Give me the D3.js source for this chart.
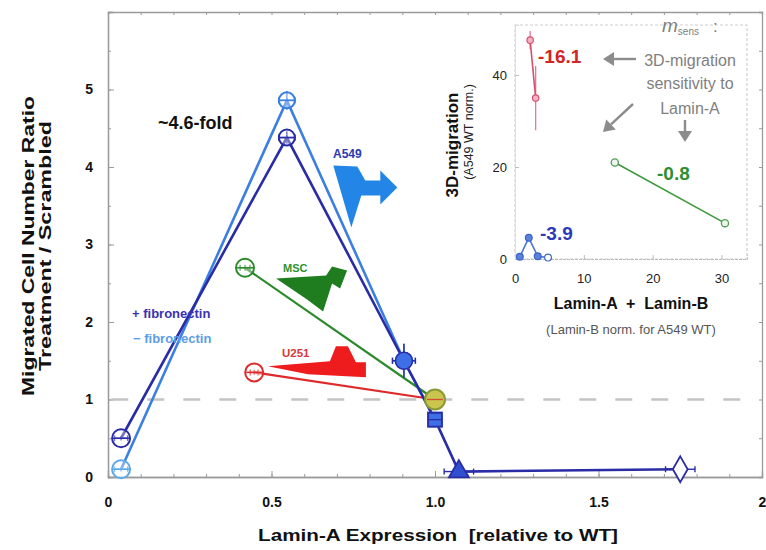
<!DOCTYPE html>
<html>
<head>
<meta charset="utf-8">
<script src="https://cdn.jsdelivr.net/npm/d3@7"></script>
<style>
  body { margin: 0; background: #fff; }
  svg { display: block; }
  text { font-family: "Liberation Sans", Arial, Helvetica, sans-serif; }
</style>
</head>
<body>
<svg id="chart" width="766" height="550"></svg>
<script>
// ---------- main panel ----------
const xTicks = [0, 0.5, 1.0, 1.5, 2];
const xTickLabels = ["0", "0.5", "1.0", "1.5", "2"];
const yTicks = [0, 1, 2, 3, 4, 5];

// A549, - fibronectin
const laminMinusFn = [0.04, 0.547, 0.905, 1.0];
const ratioMinusFn = [0.10, 4.86, 1.50, 0.74];
const xErrMinusFn  = [0.02, 0.025, 0.035, 0.02];
const yErrMinusFn  = [0.03, 0.12, 0.22, 0.08];
const markMinusFn  = ["circle", "circleBar", "dot", "square"];

// A549, + fibronectin
const laminPlusFn = [0.04, 0.547, 0.905, 1.0, 1.073, 1.75];
const ratioPlusFn = [0.50, 4.38, 1.50, 0.74, 0.07, 0.10];
const xErrPlusFn  = [0.02, 0.025, 0.035, 0.02, 0.045, 0.045];
const yErrPlusFn  = [0.03, 0.08, 0.22, 0.08, 0.03, 0.03];
const markPlusFn  = ["circle", "circleBar", "dot", "square", "triangle", "diamond"];

// MSC and U251 (second point = WT)
const laminMSC = [0.419, 1.0];
const ratioMSC = [2.70, 1.0];
const laminU251 = [0.447, 1.0];
const ratioU251 = [1.35, 1.0];

// icon anchors in data units (top-left / left tip of each cell icon)
const iconA549 = [0.689, 4.02];
const iconMSC = [0.514, 2.56];
const iconU251 = [0.489, 1.43];

// ---------- inset ----------
const insetXTicks = [0, 10, 20, 30];
const insetYTicks = [0, 20, 40];
const sumU251 = [2.2, 3.0];
const migU251 = [47.6, 35.0];
const errU251 = [2.0, 7.0];
const sumMSC = [14.5, 30.5];
const migMSC = [21.0, 7.8];
const sumA549 = [0.7, 2.0, 3.3, 4.8];
const migA549 = [0.5, 4.6, 0.6, 0.3];
const slopeLabels = ["-16.1", "-0.8", "-3.9"];

const C = {
  dark: "#2a2ca6",
  light: "#3b7fe3",
  lightText: "#5b9de6",
  green: "#2b8a2b",
  red: "#de2a2a",
  axis: "#9a9a9a",
  grey: "#888"
};

const svg = d3.select("#chart");

const x = d3.scaleLinear().domain([0, 2]).range([108, 762]);
const y = d3.scaleLinear().domain([0, 6]).range([477, 12]);

// ---------- frame & axes ----------
function styleAxis(g) {
  g.selectAll("path.domain").attr("stroke", C.axis).attr("stroke-width", 1.3);
  g.selectAll(".tick line").attr("stroke", C.axis).attr("stroke-width", 1);
}

const minorX = d3.range(0, 2.0001, 0.1);
const minorY = d3.range(0, 6.0001, 0.5);

svg.append("g").attr("transform", "translate(0,477)")
  .call(d3.axisBottom(x).tickValues(minorX).tickSize(-3).tickFormat(""))
  .call(styleAxis);
svg.append("g").attr("transform", "translate(0,12)")
  .call(d3.axisTop(x).tickValues(minorX).tickSize(-3).tickFormat(""))
  .call(styleAxis);
svg.append("g").attr("transform", "translate(108,0)")
  .call(d3.axisLeft(y).tickValues(minorY).tickSize(-3).tickFormat(""))
  .call(styleAxis);
svg.append("g").attr("transform", "translate(762,0)")
  .call(d3.axisRight(y).tickValues(minorY).tickSize(-3).tickFormat(""))
  .call(styleAxis);

const xAxis = svg.append("g").attr("transform", "translate(0,477)")
  .call(d3.axisBottom(x).tickValues(xTicks).tickSize(-6).tickPadding(20)
    .tickFormat((d, i) => xTickLabels[i]))
  .call(styleAxis);
xAxis.selectAll("text").attr("font-size", 14).attr("font-weight", "bold").attr("fill", "#111");

const yAxis = svg.append("g").attr("transform", "translate(108,0)")
  .call(d3.axisLeft(y).tickValues(yTicks).tickSize(-6).tickPadding(15).tickFormat(d3.format("d")))
  .call(styleAxis);
yAxis.selectAll("text").attr("font-size", 14).attr("font-weight", "bold").attr("fill", "#111");

// reference line at ratio = 1
svg.append("line")
  .attr("x1", x(0.01)).attr("x2", x(1.97))
  .attr("y1", y(1)).attr("y2", y(1))
  .attr("stroke", "#c4c4c4").attr("stroke-width", 2.6)
  .attr("stroke-dasharray", "17 19");

// axis titles
svg.append("text")
  .attr("x", 438).attr("y", 541).attr("text-anchor", "middle")
  .attr("font-size", 16).attr("font-weight", "bold").attr("fill", "#111")
  .attr("xml:space", "preserve")
  .attr("textLength", 360).attr("lengthAdjust", "spacingAndGlyphs")
  .text("Lamin-A Expression  [relative to WT]");

const yTitle = svg.append("g").attr("transform", "translate(0,246) rotate(-90)");
yTitle.append("text").attr("x", 0).attr("y", 34).attr("text-anchor", "middle")
  .attr("font-size", 16).attr("font-weight", "bold").attr("fill", "#111")
  .attr("textLength", 300).attr("lengthAdjust", "spacingAndGlyphs")
  .text("Migrated Cell Number Ratio");
yTitle.append("text").attr("x", 0).attr("y", 51).attr("text-anchor", "middle")
  .attr("font-size", 16).attr("font-weight", "bold").attr("fill", "#111")
  .attr("textLength", 250).attr("lengthAdjust", "spacingAndGlyphs")
  .text("Treatment / Scrambled");

// ---------- cell icons ----------
const iconShapes = {
  a549: "M0,0 L24,1 L32,15 L47,15 L47,5 L64,22 L47,39 L47,30 L28,30 L18,62 Z",
  msc: "M0,0 L50,-3 L56,-12 L71,-8 L64,10 L56,5 L47,33 L31,21 Z",
  u251: "M0,0 L62,-5 L68,-20 L80,-20 L88,-4 L98,-4 L98,11 L40,8 Z"
};
svg.append("path").attr("d", iconShapes.a549)
  .attr("transform", `translate(${x(iconA549[0])},${y(iconA549[1])})`)
  .attr("fill", "#2386e6");
svg.append("path").attr("d", iconShapes.msc)
  .attr("transform", `translate(${x(iconMSC[0])},${y(iconMSC[1])})`)
  .attr("fill", "#1f7d1f");
svg.append("path").attr("d", iconShapes.u251)
  .attr("transform", `translate(${x(iconU251[0])},${y(iconU251[1])})`)
  .attr("fill", "#ee1c1c");

// ---------- series lines ----------
const line = d3.line().x(d => x(d[0])).y(d => y(d[1]));
const zip = (a, b) => a.map((v, i) => [v, b[i]]);

svg.append("path").datum(zip(laminMSC, ratioMSC)).attr("d", line)
  .attr("fill", "none").attr("stroke", C.green).attr("stroke-width", 2.2);
svg.append("path").datum(zip(laminU251, ratioU251)).attr("d", line)
  .attr("fill", "none").attr("stroke", C.red).attr("stroke-width", 2.2);
svg.append("path").datum(zip(laminMinusFn, ratioMinusFn)).attr("d", line)
  .attr("fill", "none").attr("stroke", C.light).attr("stroke-width", 2.6);
svg.append("path").datum(zip(laminPlusFn, ratioPlusFn)).attr("d", line)
  .attr("fill", "none").attr("stroke", C.dark).attr("stroke-width", 2.6);

// ---------- markers ----------
function drawPoint(g, lx, ry, ex, ey, kind, stroke, fill) {
  const cx = x(lx), cy = y(ry);
  const eb = g.append("g").attr("stroke", stroke).attr("stroke-width", 1.4);
  eb.append("line").attr("x1", x(lx - ex)).attr("x2", x(lx + ex)).attr("y1", cy).attr("y2", cy);
  eb.append("line").attr("x1", cx).attr("x2", cx).attr("y1", y(ry - ey)).attr("y2", y(ry + ey));
  [x(lx - ex), x(lx + ex)].forEach(px => eb.append("line")
    .attr("x1", px).attr("x2", px).attr("y1", cy - 3).attr("y2", cy + 3));
  if (kind === "circle" || kind === "circleBar") {
    g.append("circle").attr("cx", cx).attr("cy", cy).attr("r", kind === "circle" ? 9 : 8)
      .attr("fill", "rgba(255,255,255,0.35)").attr("stroke", stroke).attr("stroke-width", 2);
    g.append("line").attr("x1", cx - 8).attr("x2", cx + 8).attr("y1", cy).attr("y2", cy)
      .attr("stroke", stroke).attr("stroke-width", 1.6);
  } else if (kind === "dot") {
    g.append("circle").attr("cx", cx).attr("cy", cy).attr("r", 8.5)
      .attr("fill", fill).attr("stroke", stroke).attr("stroke-width", 1.6);
  } else {
    const type = { square: d3.symbolSquare, triangle: d3.symbolTriangle, diamond: d3.symbolDiamond }[kind];
    const size = { square: 190, triangle: 170, diamond: 190 }[kind];
    g.append("path").attr("d", d3.symbol(type, size))
      .attr("transform", `translate(${cx},${cy})`)
      .attr("fill", fill).attr("stroke", stroke).attr("stroke-width", 1.8);
    if (kind === "square") {
      g.append("line").attr("x1", cx - 7).attr("x2", cx + 7).attr("y1", cy).attr("y2", cy)
        .attr("stroke", stroke).attr("stroke-width", 1.3);
    }
  }
}

const mk = svg.append("g");
laminMinusFn.forEach((v, i) => drawPoint(mk, v, ratioMinusFn[i], xErrMinusFn[i], yErrMinusFn[i],
  markMinusFn[i], i === 0 ? "#5aa8e6" : C.light, "#4a86ea"));
laminPlusFn.forEach((v, i) => drawPoint(mk, v, ratioPlusFn[i], xErrPlusFn[i], yErrPlusFn[i],
  markPlusFn[i], C.dark, i === 5 ? "#fff" : (i === 4 ? "#2f4fd0" : "#3f6fe6")));

// MSC and U251 starting points
drawPoint(mk, laminMSC[0], ratioMSC[0], 0.015, 0.04, "circle", C.green, "none");
drawPoint(mk, laminU251[0], ratioU251[0], 0.012, 0.03, "circle", C.red, "none");
// shared WT point
mk.append("circle").attr("cx", x(laminMSC[1])).attr("cy", y(ratioMSC[1])).attr("r", 10)
  .attr("fill", "#c9c54e").attr("stroke", "#8a9a34").attr("stroke-width", 2);
mk.append("line").attr("x1", x(laminMSC[1]) - 8).attr("x2", x(laminMSC[1]) + 8)
  .attr("y1", y(ratioMSC[1])).attr("y2", y(ratioMSC[1])).attr("stroke", "#d05030").attr("stroke-width", 1.3);

// ---------- annotations ----------
svg.append("text").attr("x", 158).attr("y", 129)
  .attr("font-size", 18).attr("font-weight", "bold").attr("fill", "#111")
  .text("~4.6-fold");
svg.append("text").attr("x", 333).attr("y", 158)
  .attr("font-size", 12).attr("font-weight", "bold").attr("fill", "#2a38b4")
  .text("A549");
svg.append("text").attr("x", 283).attr("y", 272)
  .attr("font-size", 11).attr("font-weight", "bold").attr("fill", "#2f922f")
  .text("MSC");
svg.append("text").attr("x", 282).attr("y", 357)
  .attr("font-size", 11.5).attr("font-weight", "bold").attr("fill", "#d43a3a")
  .text("U251");
svg.append("text").attr("x", 132).attr("y", 318)
  .attr("font-size", 13).attr("font-weight", "bold").attr("fill", "#3a32b2")
  .text("+ fibronectin");
svg.append("text").attr("x", 133).attr("y", 343)
  .attr("font-size", 13).attr("font-weight", "bold").attr("fill", C.lightText)
  .text("\u2212 fibronectin");

// ---------- inset ----------
const ix = d3.scaleLinear().domain([0, 33.7]).range([515, 747]);
const iy = d3.scaleLinear().domain([0, 50.9]).range([259, 25]);
const inset = svg.append("g");

inset.append("rect").attr("x", 515).attr("y", 25).attr("width", 232).attr("height", 234)
  .attr("fill", "none").attr("stroke", "#cfcfcf").attr("stroke-width", 1.2)
  .attr("stroke-dasharray", "3 2");

const ixAxis = inset.append("g").attr("transform", "translate(0,259)")
  .call(d3.axisBottom(ix).tickValues(insetXTicks).tickSize(-4).tickPadding(15));
ixAxis.selectAll("path.domain").attr("stroke", "#bbb").attr("stroke-dasharray", "3 1");
ixAxis.selectAll(".tick line").attr("stroke", "#bbb");
ixAxis.selectAll("text").attr("font-size", 13).attr("fill", "#222");

const iyAxis = inset.append("g").attr("transform", "translate(515,0)")
  .call(d3.axisLeft(iy).tickValues(insetYTicks).tickSize(-4).tickPadding(8));
iyAxis.selectAll("path.domain").attr("stroke", "#d6e6d6");
iyAxis.selectAll(".tick line").attr("stroke", "#bbb");
iyAxis.selectAll("text").attr("font-size", 13).attr("fill", "#222");

const iline = d3.line().x(d => ix(d[0])).y(d => iy(d[1]));

// U251
sumU251.forEach((v, i) => inset.append("line")
  .attr("x1", ix(v)).attr("x2", ix(v))
  .attr("y1", iy(migU251[i] - errU251[i])).attr("y2", iy(migU251[i] + errU251[i]))
  .attr("stroke", "#e07a9a").attr("stroke-width", 1.3));
inset.append("path").datum(zip(sumU251, migU251)).attr("d", iline)
  .attr("fill", "none").attr("stroke", "#d8506e").attr("stroke-width", 1.6);
sumU251.forEach((v, i) => inset.append("circle").attr("cx", ix(v)).attr("cy", iy(migU251[i]))
  .attr("r", 3.2).attr("fill", "#f2b4c4").attr("stroke", "#d8506e").attr("stroke-width", 1.2));

// MSC
inset.append("path").datum(zip(sumMSC, migMSC)).attr("d", iline)
  .attr("fill", "none").attr("stroke", "#3e9a3e").attr("stroke-width", 1.6);
sumMSC.forEach((v, i) => inset.append("circle").attr("cx", ix(v)).attr("cy", iy(migMSC[i]))
  .attr("r", 3.6).attr("fill", "#eef6ee").attr("stroke", "#559a55").attr("stroke-width", 1.3));

// A549
inset.append("path").datum(zip(sumA549, migA549)).attr("d", iline)
  .attr("fill", "none").attr("stroke", "#4a76d6").attr("stroke-width", 1.6);
sumA549.forEach((v, i) => inset.append("circle").attr("cx", ix(v)).attr("cy", iy(migA549[i]))
  .attr("r", 3.4).attr("fill", i === 3 ? "#fff" : "#5a82da")
  .attr("stroke", "#3e64c6").attr("stroke-width", 1.2));

// slope labels
inset.append("text").attr("x", 538).attr("y", 63).attr("font-size", 19)
  .attr("font-weight", "bold").attr("fill", "#d42424").text(slopeLabels[0]);
inset.append("text").attr("x", 657).attr("y", 180).attr("font-size", 19)
  .attr("font-weight", "bold").attr("fill", "#2e8e2e").text(slopeLabels[1]);
inset.append("text").attr("x", 540).attr("y", 240).attr("font-size", 19)
  .attr("font-weight", "bold").attr("fill", "#2a3ab8").text(slopeLabels[2]);

// sensitivity note
const note = inset.append("text").attr("x", 662).attr("y", 32).attr("fill", "#808080")
  .attr("font-size", 15).attr("xml:space", "preserve");
note.append("tspan").attr("font-style", "italic").attr("font-size", 19).text("m");
note.append("tspan").attr("font-size", 10).attr("dy", 3).text("sens");
note.append("tspan").attr("dy", -3).attr("font-size", 17).text("   :");
[["3D-migration", 66], ["sensitivity to", 89], ["Lamin-A", 114]].forEach(([t, yy]) =>
  inset.append("text").attr("x", 690).attr("y", yy).attr("text-anchor", "middle")
    .attr("font-size", 16).attr("fill", "#808080").text(t));

// note arrows
function arrow(x1, y1, x2, y2) {
  const a = Math.atan2(y2 - y1, x2 - x1), L = 11, W = 7;
  const bx = x2 - L * Math.cos(a), by = y2 - L * Math.sin(a);
  inset.append("line").attr("x1", x1).attr("y1", y1).attr("x2", bx).attr("y2", by)
    .attr("stroke", "#8c8c8c").attr("stroke-width", 2.4);
  inset.append("path")
    .attr("d", `M${x2},${y2} L${bx - W * Math.sin(a)},${by + W * Math.cos(a)} L${bx + W * Math.sin(a)},${by - W * Math.cos(a)} Z`)
    .attr("fill", "#8c8c8c");
}
arrow(636, 59, 603, 59);
arrow(633, 104, 603, 132);
arrow(685, 120, 685, 142);

// inset titles
const iyTitle = inset.append("g").attr("transform", "translate(0,145) rotate(-90)");
iyTitle.append("text").attr("x", 0).attr("y", 458).attr("text-anchor", "middle")
  .attr("font-size", 17).attr("font-weight", "bold").attr("fill", "#111")
  .text("3D-migration");
iyTitle.append("text").attr("x", 13).attr("y", 473).attr("text-anchor", "middle")
  .attr("font-size", 12.5).attr("fill", "#222")
  .text("(A549 WT norm.)");
inset.append("text").attr("x", 631).attr("y", 309).attr("text-anchor", "middle")
  .attr("font-size", 16).attr("font-weight", "bold").attr("fill", "#111")
  .attr("xml:space", "preserve")
  .text("Lamin-A  +  Lamin-B");
inset.append("text").attr("x", 631).attr("y", 334).attr("text-anchor", "middle")
  .attr("font-size", 13).attr("fill", "#555")
  .text("(Lamin-B norm. for A549 WT)");
</script>
</body>
</html>
